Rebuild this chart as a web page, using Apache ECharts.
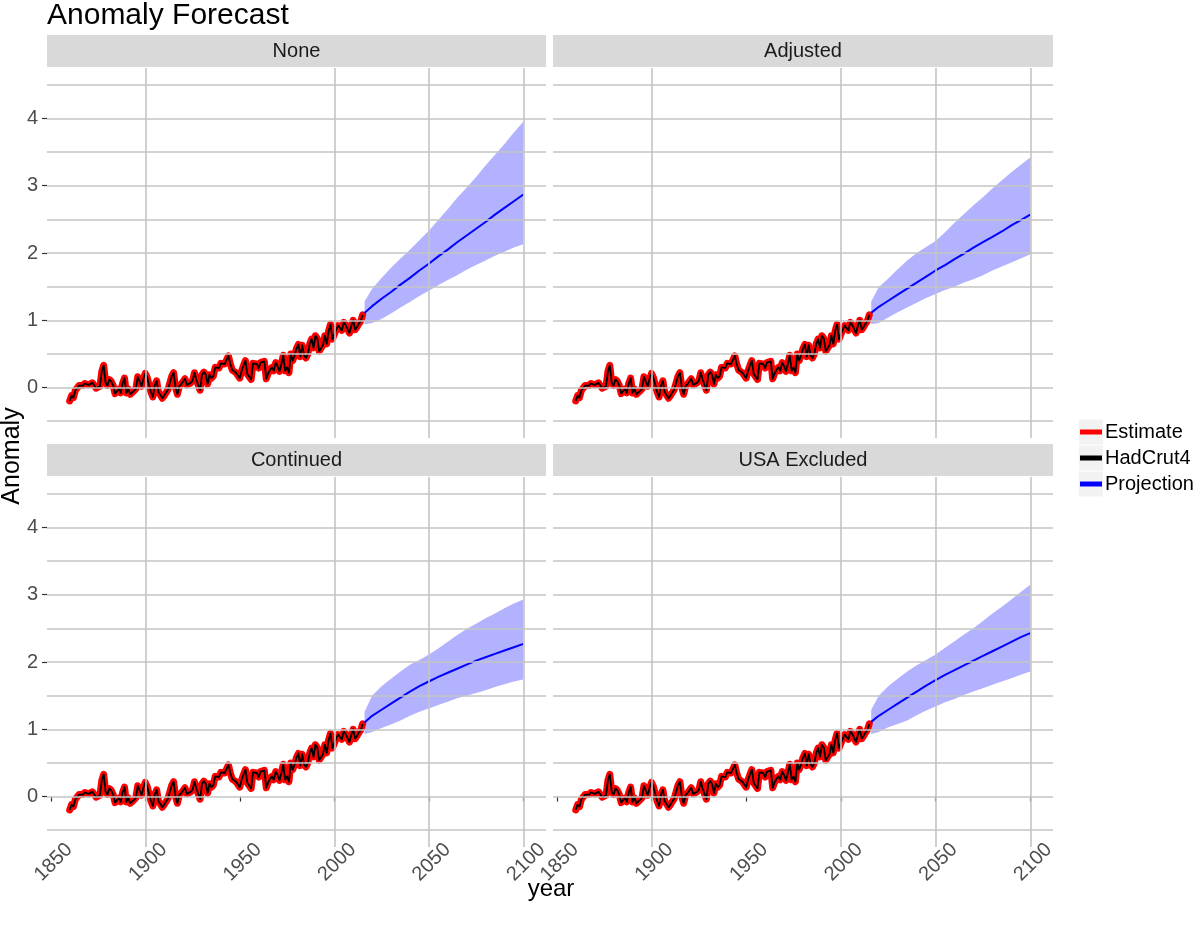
<!DOCTYPE html>
<html><head><meta charset="utf-8">
<script src="https://cdn.jsdelivr.net/npm/echarts@6/dist/echarts.min.js"></script>
<style>html,body{margin:0;padding:0;background:#fff}#c{width:1200px;height:930px}</style>
</head><body><div id="c"></div>
<script>
// ---------- data ----------
const histStart = 1860;
const hadcrut4 = [
 -0.20,-0.12,-0.15,-0.04,-0.02, 0.03, 0.05, 0.03, 0.06, 0.07,
  0.04, 0.02, 0.07, 0.03,-0.01,-0.03, 0.02, 0.24, 0.33, 0.07,
  0.03, 0.12, 0.09, 0.03,-0.09,-0.07,-0.02,-0.08, 0.06, 0.14,
 -0.08,-0.02,-0.10,-0.08,-0.05,-0.02, 0.16, 0.17, 0.02, 0.13,
  0.21, 0.15, 0.04,-0.07,-0.14, 0.03, 0.10,-0.07,-0.11,-0.16,
 -0.12,-0.12,-0.03,-0.03, 0.17, 0.22, 0.00,-0.10, 0.02, 0.05,
  0.07, 0.13, 0.04, 0.06, 0.07, 0.10, 0.22, 0.12, 0.12,-0.04,
  0.19, 0.23, 0.19, 0.05, 0.19, 0.14, 0.17, 0.30, 0.31, 0.29,
  0.36, 0.34, 0.35, 0.36, 0.47, 0.35, 0.26, 0.26, 0.22, 0.22,
  0.14, 0.25, 0.33, 0.40, 0.20, 0.18, 0.12, 0.36, 0.38, 0.35,
  0.29, 0.37, 0.36, 0.39, 0.13, 0.21, 0.26, 0.30, 0.25, 0.37,
  0.32, 0.24, 0.35, 0.48, 0.25, 0.30, 0.22, 0.50, 0.40, 0.48,
  0.58, 0.64, 0.46, 0.63, 0.48, 0.44, 0.50, 0.65, 0.72, 0.59,
  0.77, 0.73, 0.54, 0.55, 0.63, 0.77, 0.65, 0.84, 0.94, 0.72,
  0.73, 0.86, 0.92, 0.91, 0.85, 0.97, 0.93, 0.93, 0.81, 0.92,
  1.00, 0.86, 0.90, 0.95, 0.99, 1.08
];
const estimate = [
 -0.20,-0.12,-0.15,-0.04,-0.02, 0.03, 0.05, 0.03, 0.06, 0.07,
  0.04, 0.02, 0.07, 0.03,-0.01,-0.03, 0.02, 0.24, 0.33, 0.07,
  0.03, 0.12, 0.09, 0.03,-0.09,-0.07,-0.02,-0.08, 0.06, 0.14,
 -0.08,-0.02,-0.10,-0.08,-0.05,-0.02, 0.16, 0.17, 0.02, 0.13,
  0.21, 0.15, 0.04,-0.07,-0.14, 0.03, 0.10,-0.07,-0.11,-0.16,
 -0.12,-0.12,-0.03,-0.03, 0.17, 0.22, 0.00,-0.10, 0.02, 0.05,
  0.07, 0.13, 0.04, 0.06, 0.07, 0.10, 0.22, 0.12, 0.12,-0.04,
  0.19, 0.23, 0.19, 0.05, 0.19, 0.14, 0.17, 0.30, 0.31, 0.29,
  0.36, 0.34, 0.35, 0.36, 0.47, 0.35, 0.26, 0.26, 0.22, 0.22,
  0.14, 0.25, 0.33, 0.40, 0.20, 0.18, 0.12, 0.36, 0.38, 0.35,
  0.29, 0.37, 0.36, 0.39, 0.13, 0.21, 0.26, 0.30, 0.25, 0.37,
  0.32, 0.24, 0.35, 0.48, 0.25, 0.30, 0.22, 0.50, 0.40, 0.48,
  0.58, 0.64, 0.46, 0.63, 0.48, 0.44, 0.50, 0.65, 0.72, 0.59,
  0.77, 0.73, 0.54, 0.55, 0.63, 0.77, 0.65, 0.84, 0.94, 0.72,
  0.73, 0.86, 0.92, 0.91, 0.85, 0.97, 0.93, 0.93, 0.81, 0.92,
  1.00, 0.86, 0.90, 0.95, 0.99, 1.08
];

const projYears = [2016,2020,2025,2030,2035,2040,2045,2050,2055,2060,2065,2070,2075,2080,2085,2090,2095,2100];

const projNone = [1.11,1.21,1.32,1.42,1.53,1.63,1.74,1.84,1.95,2.05,2.16,2.26,2.36,2.46,2.57,2.67,2.77,2.87];
const loNone   = [0.94,0.96,1.02,1.10,1.19,1.27,1.36,1.44,1.52,1.60,1.67,1.75,1.82,1.89,1.96,2.02,2.08,2.13];
const hiNone   = [1.28,1.47,1.63,1.78,1.92,2.05,2.19,2.33,2.49,2.65,2.82,2.97,3.13,3.30,3.46,3.62,3.79,3.95];

const projAdjusted = [1.11,1.20,1.29,1.38,1.47,1.56,1.65,1.74,1.82,1.91,1.99,2.08,2.16,2.24,2.32,2.41,2.49,2.57];
const loAdjusted   = [0.94,0.96,1.04,1.12,1.19,1.26,1.33,1.39,1.45,1.50,1.56,1.61,1.67,1.74,1.80,1.86,1.92,1.98];
const hiAdjusted   = [1.28,1.49,1.62,1.76,1.89,2.00,2.09,2.18,2.31,2.45,2.58,2.71,2.83,2.96,3.08,3.20,3.31,3.42];

const projContinued = [1.10,1.20,1.29,1.38,1.47,1.56,1.64,1.71,1.78,1.84,1.90,1.96,2.02,2.07,2.12,2.17,2.22,2.27];
const loContinued   = [0.93,0.96,1.02,1.07,1.13,1.20,1.26,1.31,1.36,1.41,1.46,1.50,1.54,1.58,1.63,1.67,1.71,1.74];
const hiContinued   = [1.26,1.50,1.64,1.75,1.86,1.96,2.03,2.11,2.20,2.30,2.40,2.49,2.57,2.65,2.72,2.80,2.87,2.93];

const projUSAExcl = [1.11,1.20,1.29,1.38,1.47,1.56,1.65,1.73,1.81,1.88,1.95,2.02,2.09,2.16,2.23,2.30,2.37,2.43];
const loUSAExcl   = [0.93,0.96,1.03,1.08,1.13,1.21,1.28,1.34,1.40,1.45,1.51,1.56,1.61,1.66,1.71,1.76,1.81,1.86];
const hiUSAExcl   = [1.29,1.50,1.64,1.75,1.86,1.95,2.03,2.11,2.21,2.31,2.41,2.50,2.61,2.72,2.82,2.93,3.04,3.15];

const panelNames = ['None','Adjusted','Continued','USA Excluded'];
const panelProj = [projNone, projAdjusted, projContinued, projUSAExcl];
const panelLo   = [loNone, loAdjusted, loContinued, loUSAExcl];
const panelHi   = [hiNone, hiAdjusted, hiContinued, hiUSAExcl];

const xTickLabels = [1850,1900,1950,2000,2050,2100];
const xGridlines = [1900,2000,2050,2100];
const yTickLabels = [0,1,2,3,4];
const yGridlines = [-0.5,0,0.5,1,1.5,2,2.5,3,3.5,4,4.5];
const legendNames = ['Estimate','HadCrut4','Projection'];

// ---------- layout ----------
const FONT = 'Liberation Sans, Helvetica, Arial, sans-serif';
const gridPos = [
  {left:47,  top:68,  width:499, height:370},
  {left:553, top:68,  width:500, height:370},
  {left:47,  top:477, width:499, height:370},
  {left:553, top:477, width:500, height:370}
];
const stripH = 32;

const toPairs = (xs, ys) => xs.map((x, i) => [x, ys[i]]);
const histPairs = arr => arr.map((v, i) => [histStart + i, v]);

function bandRenderer(lo, hi) {
  return function (params, api) {
    if (params.dataIndex !== 0) return null;
    const top = projYears.map((x, k) => api.coord([x, hi[k]]));
    const bot = projYears.map((x, k) => api.coord([x, lo[k]])).reverse();
    return {
      type: 'polygon',
      shape: {points: top.concat(bot), smooth: 0},
      style: {fill: 'rgba(0,0,255,0.3)', stroke: null},
      silent: true
    };
  };
}

const grids = [], xAxes = [], yAxes = [], series = [], graphics = [];
gridPos.forEach((g, i) => {
  grids.push(Object.assign({}, g));
  const bottomRow = i >= 2, leftCol = i % 2 === 0;
  xAxes.push({
    gridIndex: i, type: 'value', min: 1848, max: 2112,
    axisLine: {show: false}, splitLine: {show: false},
    axisTick: {show: bottomRow, customValues: xTickLabels, length: 5, lineStyle: {color: '#333', width: 1.2}},
    axisLabel: {show: bottomRow, customValues: xTickLabels, rotate: 45, align: 'center', verticalAlign: 'middle',
      margin: 18, padding: [0, 0, 0, 8], fontSize: 20, color: '#4d4d4d', fontFamily: FONT, formatter: v => String(v)}
  });
  yAxes.push({
    gridIndex: i, type: 'value', min: -0.75, max: 4.75,
    axisLine: {show: false}, splitLine: {show: false},
    axisTick: {show: leftCol, customValues: yTickLabels, length: 5, lineStyle: {color: '#333', width: 1.2}},
    axisLabel: {show: leftCol, customValues: yTickLabels, margin: 9, fontSize: 20, color: '#4d4d4d', fontFamily: FONT}
  });
  // gridlines
  series.push({
    type: 'line', name: '_grid' + i, xAxisIndex: i, yAxisIndex: i, data: [], z: 1, silent: true,
    markLine: {
      silent: true, symbol: ['none', 'none'], label: {show: false}, animation: false,
      lineStyle: {color: '#c4c4c4', width: 1.6, type: 'solid'},
      emphasis: {disabled: true},
      data: yGridlines.map(v => ({yAxis: v})).concat(xGridlines.map(v => ({xAxis: v})))
    }
  });
  // projection band
  const lo = panelLo[i], hi = panelHi[i];
  series.push({
    type: 'custom', name: '_band' + i, xAxisIndex: i, yAxisIndex: i, z: 2, silent: true,
    data: toPairs(projYears, hi), encode: {x: 0, y: 1},
    renderItem: bandRenderer(lo, hi)
  });
  series.push({
    type: 'line', name: 'Estimate', xAxisIndex: i, yAxisIndex: i, z: 3,
    data: histPairs(estimate), showSymbol: false, symbol: 'none',
    itemStyle: {color: '#ff0000'},
    lineStyle: {color: '#ff0000', width: 7, join: 'round', cap: 'round'}
  });
  series.push({
    type: 'line', name: 'HadCrut4', xAxisIndex: i, yAxisIndex: i, z: 4,
    data: histPairs(hadcrut4), showSymbol: false, symbol: 'none',
    itemStyle: {color: '#000000'},
    lineStyle: {color: '#000000', width: 1.8, join: 'round'}
  });
  series.push({
    type: 'line', name: 'Projection', xAxisIndex: i, yAxisIndex: i, z: 4,
    data: toPairs(projYears, panelProj[i]), showSymbol: false, symbol: 'none',
    itemStyle: {color: '#0000ff'},
    lineStyle: {color: '#0000ff', width: 2}
  });
  // strip
  graphics.push({type: 'rect', shape: {x: g.left, y: g.top - stripH - 1, width: g.width, height: stripH},
    style: {fill: '#d9d9d9'}, silent: true, z: 0});
  graphics.push({type: 'text', x: g.left + g.width / 2, y: g.top - stripH / 2 - 1,
    style: {text: panelNames[i], font: '20px ' + FONT, fill: '#1a1a1a', align: 'center', verticalAlign: 'middle'},
    silent: true, z: 1});
});

// title and axis titles
graphics.push({type: 'text', x: 47, y: 16,
  style: {text: 'Anomaly Forecast', font: '30px ' + FONT, fill: '#000', align: 'left', verticalAlign: 'middle'}, silent: true});
graphics.push({type: 'text', x: 551, y: 889,
  style: {text: 'year', font: '24px ' + FONT, fill: '#000', align: 'center', verticalAlign: 'middle'}, silent: true});
graphics.push({type: 'text', x: 12, y: 456, rotation: Math.PI / 2,
  style: {text: 'Anomaly', font: '25px ' + FONT, fill: '#000', align: 'center', verticalAlign: 'middle'}, silent: true});
// legend key backgrounds
[432, 458, 484].forEach(cy => {
  graphics.push({type: 'rect', shape: {x: 1079, y: cy - 12.5, width: 24, height: 25},
    style: {fill: '#f2f2f2'}, silent: true, z: 0});
});

const chart = echarts.init(document.getElementById('c'), null, {renderer: 'canvas'});
chart.setOption({
  animation: false,
  backgroundColor: '#ffffff',
  grid: grids,
  xAxis: xAxes,
  yAxis: yAxes,
  legend: {
    data: legendNames, orient: 'vertical', left: 1080, top: 422, padding: 0,
    icon: 'rect', itemWidth: 22, itemHeight: 5, itemGap: 6, selectedMode: false,
    textStyle: {fontSize: 20, color: '#000', fontFamily: FONT, padding: [0, 0, 0, -2]}
  },
  graphic: graphics,
  series: series
});
</script>
</body></html>
